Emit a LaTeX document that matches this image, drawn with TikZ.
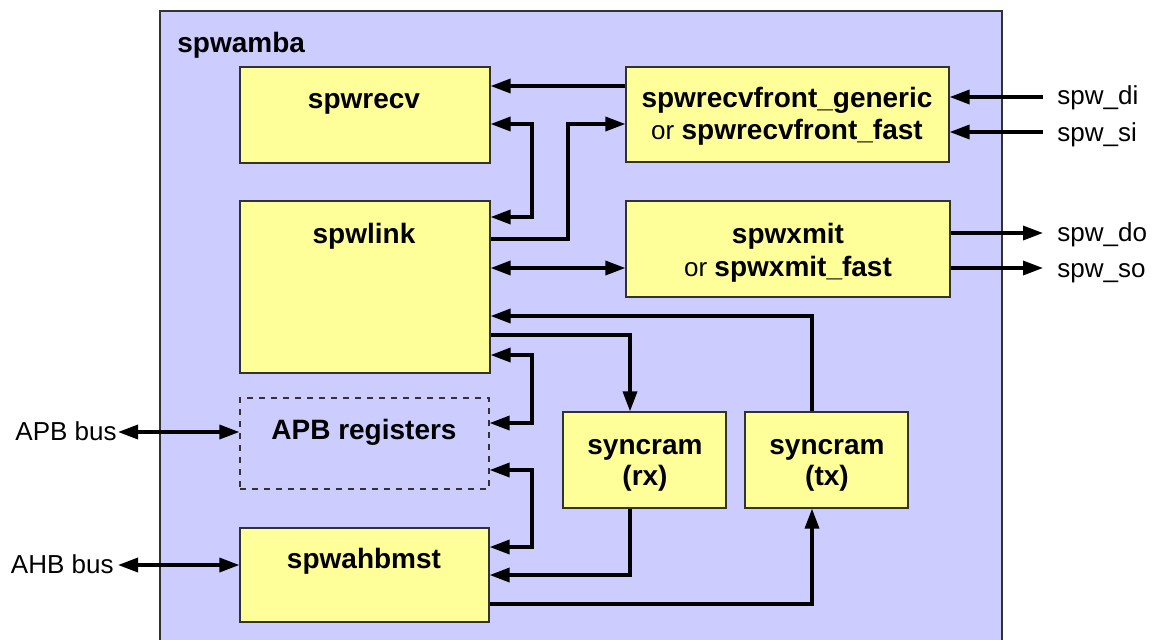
\documentclass[tikz,border=0pt]{standalone}
\usepackage{fontspec}
\setmainfont{Liberation Sans}
\usetikzlibrary{arrows.meta,fit}
\definecolor{outerfill}{RGB}{204,204,255}
\definecolor{boxfill}{RGB}{255,255,153}
\definecolor{edgecol}{RGB}{50,50,50}
\begin{document}
\begin{tikzpicture}[x=0.5pt,y=-0.5pt,
  box/.style={draw=edgecol, fill=boxfill, line width=0.6pt, inner sep=0pt},
  dbox/.style={draw=edgecol, dashed, line width=0.6pt, inner sep=0pt},
  outer/.style={draw=edgecol, fill=outerfill, line width=0.6pt, inner sep=0pt},
  bt/.style={font=\fontsize{14}{16}\selectfont\bfseries, anchor=base, inner sep=0pt},
  rt/.style={font=\fontsize{13}{16}\selectfont, anchor=base, inner sep=0pt},
  conn/.style={line width=1.7pt, line join=miter, -{Triangle[length=10pt,width=7pt]}},
  bconn/.style={line width=1.7pt, line join=miter, {Triangle[length=10pt,width=7pt]}-{Triangle[length=10pt,width=7pt]}}
]
\clip (0,0) rectangle (1156,639);
\fill[white] (0,0) rectangle (1156,639);
\node[outer, fit={(160,11) (1002,660)}] (amba) {};
\node[bt, anchor=base west] (ambat) at (177,52) {spwamba};

\node[box, fit={(240,67) (490,163)}] (recv) {};
\node[box, fit={(626,67) (949,162)}] (front) {};
\node[box, fit={(240,201) (490,373)}] (link) {};
\node[box, fit={(626,201) (950,297)}] (xmit) {};
\node[dbox, fit={(240,398) (489,489)}] (apb) {};
\node[box, fit={(240,528) (489,622)}] (ahb) {};
\node[box, fit={(563,412) (726,508)}] (rx) {};
\node[box, fit={(745,412) (908,508)}] (tx) {};

\node[bt] (recvt) at (364,108) {spwrecv};
\node[bt] (frontt1) at (787,107) {spwrecvfront\_generic};
\node[rt] (frontt2) at (787,139) {or \bfseries\fontsize{14}{16}\selectfont spwrecvfront\_fast};
\node[bt] (linkt) at (364,243) {spwlink};
\node[bt] (xmitt1) at (788,243) {spwxmit};
\node[rt] (xmitt2) at (788,276) {or \bfseries\fontsize{14}{16}\selectfont spwxmit\_fast};
\node[bt] (apbt) at (364,439) {APB registers};
\node[bt] (ahbt) at (364,568) {spwahbmst};
\node[bt] (rxt1) at (645,454) {syncram};
\node[bt] (rxt2) at (645,485) {(rx)};
\node[bt] (txt1) at (827,454) {syncram};
\node[bt] (txt2) at (827,485) {(tx)};

\node[rt, anchor=base west] (di) at (1057,104) {spw\_di};
\node[rt, anchor=base west] (si) at (1057,141) {spw\_si};
\node[rt, anchor=base west] (do) at (1057,241) {spw\_do};
\node[rt, anchor=base west] (so) at (1057,277) {spw\_so};
\node[rt, anchor=base east] (apbbus) at (117,440) {APB bus};
\node[rt, anchor=base east] (ahbbus) at (114,573) {AHB bus};

\coordinate (diE) at (1043,97);
\coordinate (siE) at (1043,132);
\coordinate (doE) at (1043,233);
\coordinate (soE) at (1043,268);
\coordinate (apbE) at (118,432);
\coordinate (ahbE) at (118,565);

\draw[conn] (front.west |- 0,86) -- (recv.east |- 0,86);
\draw[bconn] (recv.east |- 0,124) -- (532,124) -- (532,217) -- (link.east |- 0,217);
\draw[conn] (link.east |- 0,239) -- (568,239) -- (568,124) -- (front.west |- 0,124);
\draw[bconn] (link.east |- 0,268) -- (xmit.west |- 0,268);
\draw[conn] (tx.north -| 812,0) -- (812,316) -- (link.east |- 0,316);
\draw[conn] (link.east |- 0,335) -- (630,335) -- (rx.north -| 630,0);
\draw[bconn] (link.east |- 0,355) -- (532,355) -- (532,423) -- (apb.east |- 0,423);
\draw[bconn] (apb.east |- 0,470) -- (532,470) -- (532,547) -- (ahb.east |- 0,547);
\draw[conn] (rx.south -| 630,0) -- (630,575) -- (ahb.east |- 0,575);
\draw[conn] (ahb.east |- 0,604) -- (812,604) -- (tx.south -| 812,0);

\draw[conn] (diE) -- (front.east |- diE);
\draw[conn] (siE) -- (front.east |- siE);
\draw[conn] (xmit.east |- doE) -- (doE);
\draw[conn] (xmit.east |- soE) -- (soE);
\draw[bconn] (apbE) -- (apb.west |- apbE);
\draw[bconn] (ahbE) -- (ahb.west |- ahbE);
\end{tikzpicture}
\end{document}
